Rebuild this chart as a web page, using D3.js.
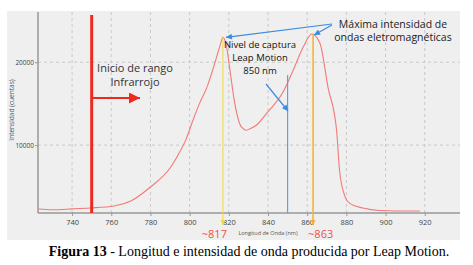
<!DOCTYPE html>
<html>
<head>
<meta charset="utf-8">
<script src="https://cdn.jsdelivr.net/npm/d3@7"></script>
<style>
  body { margin: 0; background: #fff; }
  svg { display: block; }
</style>
</head>
<body>
<svg id="chart" width="473" height="265"></svg>
<script>
// spectrum
var wavelengths = [722.6, 730, 740, 749, 761.5, 770, 780, 790, 795, 798, 801.7, 805, 808.7, 813, 815.5, 817, 818.9, 820.6, 823, 826.4, 829, 831, 834, 839.5, 847.7, 852.8, 857.9, 862.4, 866.5, 870.6, 875, 876.5, 879, 881.6, 888.5, 897, 905, 917.5];
var intensities = [2290, 2200, 2300, 2410, 2650, 3250, 4940, 7230, 9200, 10600, 13000, 15000, 16900, 20000, 22000, 23000, 21800, 19000, 15100, 12200, 11800, 12000, 12400, 13900, 16400, 19000, 21800, 23400, 22300, 17000, 11800, 7000, 4000, 3000, 2400, 2100, 2050, 2050];
var xTicks = [740, 760, 780, 800, 820, 840, 860, 880, 900, 920];
var yTicks = [10000, 20000];
var peaks = [817, 863];
var peakLabels = ["~817", "~863"];
var irStart = 750;
var captureNm = 850;

var svg = d3.select("#chart");
var x = d3.scaleLinear().domain([722.6, 938]).range([38, 460]);
var y = d3.scaleLinear().domain([1807, 26060]).range([213, 12]);

var font = "'Open Sans', sans-serif";

// panel
svg.append("rect").attr("x", 7).attr("y", 11).attr("width", 453).attr("height", 229).attr("fill", "#efefef");

// grid
svg.append("g").selectAll("line").data(xTicks).enter().append("line")
    .attr("x1", d => x(d)).attr("x2", d => x(d))
    .attr("y1", 12).attr("y2", 213)
    .attr("stroke", "#c9c9c9").attr("stroke-dasharray", "3,3");
svg.append("g").selectAll("line").data(yTicks).enter().append("line")
    .attr("x1", 38).attr("x2", 460)
    .attr("y1", d => y(d)).attr("y2", d => y(d))
    .attr("stroke", "#c9c9c9").attr("stroke-dasharray", "3,3");

// axes
var xa = svg.append("g").attr("transform", "translate(0,213)")
    .call(d3.axisBottom(x).tickValues(xTicks).tickSize(3).tickFormat(d3.format("d")));
var ya = svg.append("g").attr("transform", "translate(38,0)")
    .call(d3.axisLeft(y).tickValues(yTicks).tickSize(3).tickFormat(d3.format("d")));
[xa, ya].forEach(function(a) {
    a.select(".domain").remove();
    a.selectAll(".tick line").attr("stroke", "#999");
    a.selectAll(".tick text").attr("fill", "#444").style("font-family", font);
});
xa.selectAll(".tick text").style("font-size", "7.5px").attr("dy", "0.8em");
ya.selectAll(".tick text").style("font-size", "6.5px").attr("x", -4);
svg.append("line").attr("x1", 38).attr("x2", 38).attr("y1", 12).attr("y2", 213).attr("stroke", "#999").attr("stroke-width", 1.5);
svg.append("line").attr("x1", 38).attr("x2", 460).attr("y1", 213).attr("y2", 213).attr("stroke", "#999").attr("stroke-width", 1.5);

svg.append("text").attr("transform", "translate(14,110) rotate(-90)")
    .attr("text-anchor", "middle").style("font-family", font).style("font-size", "6.5px").attr("fill", "#555")
    .text("Intensidad (cuentas)");
svg.append("text").attr("x", 268).attr("y", 235)
    .attr("text-anchor", "middle").style("font-family", font).style("font-size", "5.5px").attr("fill", "#555")
    .text("Longitud de Onda (nm)");

// spectrum
var pts = wavelengths.map((w, i) => [w, intensities[i]]);
svg.append("path").datum(pts)
    .attr("fill", "none").attr("stroke", "#f27a76").attr("stroke-width", 1.1)
    .attr("d", d3.line().x(d => x(d[0])).y(d => y(d[1])).curve(d3.curveMonotoneX));

// markers
var defs = svg.append("defs");
function marker(id, col, w, h) {
    defs.append("marker").attr("id", id).attr("viewBox", "0 0 10 10")
        .attr("refX", 10).attr("refY", 5).attr("markerWidth", w).attr("markerHeight", h)
        .attr("markerUnits", "userSpaceOnUse").attr("orient", "auto")
        .append("path").attr("d", "M0,0L10,5L0,10z").attr("fill", col);
}
marker("mRed", "#ee2a1e", 12, 11);
marker("mBlue", "#3a8de0", 7, 6);
marker("mYel", "#f0dc3a", 6, 5);
marker("mOr", "#f5b030", 6, 5);

// infrared start
svg.append("line").attr("x1", x(irStart)).attr("x2", x(irStart)).attr("y1", 15).attr("y2", 213)
    .attr("stroke", "#ee2a1e").attr("stroke-width", 3);
svg.append("line").attr("x1", x(irStart)).attr("x2", 140).attr("y1", 98).attr("y2", 98)
    .attr("stroke", "#ee2a1e").attr("stroke-width", 2).attr("marker-end", "url(#mRed)");
svg.append("text").attr("x", 135).attr("y", 72).attr("text-anchor", "middle")
    .style("font-family", font).style("font-size", "11px").attr("fill", "#333").text("Inicio de rango");
svg.append("text").attr("x", 135).attr("y", 86).attr("text-anchor", "middle")
    .style("font-family", font).style("font-size", "11px").attr("fill", "#333").text("Infrarrojo");

// peaks
var peakCols = ["#f0dc3a", "#f5b030"];
var peakMarks = ["url(#mYel)", "url(#mOr)"];
var peakTop = [23000, 23400];
peaks.forEach(function(p, i) {
    svg.append("line").attr("x1", x(p)).attr("x2", x(p)).attr("y1", y(peakTop[i])).attr("y2", 225)
        .attr("stroke", peakCols[i]).attr("stroke-width", i ? 1.5 : 1).attr("marker-end", peakMarks[i]);
});
svg.append("text").attr("x", x(peaks[0]) + 4).attr("y", 238).attr("text-anchor", "end")
    .style("font-family", font).style("font-size", "11px").attr("fill", "#f0504a").text(peakLabels[0]);
svg.append("text").attr("x", x(peaks[1]) - 5).attr("y", 238).attr("text-anchor", "start")
    .style("font-family", font).style("font-size", "11px").attr("fill", "#f0504a").text(peakLabels[1]);

// capture level
svg.append("line").attr("x1", x(captureNm)).attr("x2", x(captureNm)).attr("y1", 75).attr("y2", 213)
    .attr("stroke", "#6f9ad8").attr("stroke-width", 1.2);
svg.append("line").attr("x1", 266).attr("y1", 84).attr("x2", 288).attr("y2", 111)
    .attr("stroke", "#3a8de0").attr("stroke-width", 1.2).attr("marker-end", "url(#mBlue)");
["Nivel de captura", "Leap Motion", "850 nm"].forEach(function(t, i) {
    svg.append("text").attr("x", 260).attr("y", 48 + i * 13).attr("text-anchor", "middle")
        .style("font-family", font).style("font-size", "9.5px").attr("fill", "#111").text(t);
});

// max intensity
svg.append("line").attr("x1", 332).attr("y1", 24).attr("x2", x(peaks[0]) + 3).attr("y2", y(peakTop[0]))
    .attr("stroke", "#3a8de0").attr("stroke-width", 1.2).attr("marker-end", "url(#mBlue)");
svg.append("line").attr("x1", 332).attr("y1", 25).attr("x2", x(peaks[1]) + 1).attr("y2", y(peakTop[1]) + 1)
    .attr("stroke", "#3a8de0").attr("stroke-width", 1.2).attr("marker-end", "url(#mBlue)");
svg.append("text").attr("x", 393).attr("y", 28).attr("text-anchor", "middle")
    .style("font-family", font).style("font-size", "10.5px").attr("fill", "#222").text("Máxima intensidad de");
svg.append("text").attr("x", 393).attr("y", 41).attr("text-anchor", "middle")
    .style("font-family", font).style("font-size", "10.5px").attr("fill", "#222").text("ondas eletromagnéticas");

// caption
var cap = svg.append("text").attr("x", 249).attr("y", 256).attr("text-anchor", "middle")
    .attr("font-family", "Liberation Serif, serif").attr("font-size", 14).attr("fill", "#000");
cap.append("tspan").attr("font-weight", "bold").text("Figura 13");
cap.append("tspan").text(" - Longitud e intensidad de onda producida por Leap Motion.");
</script>
</body>
</html>
